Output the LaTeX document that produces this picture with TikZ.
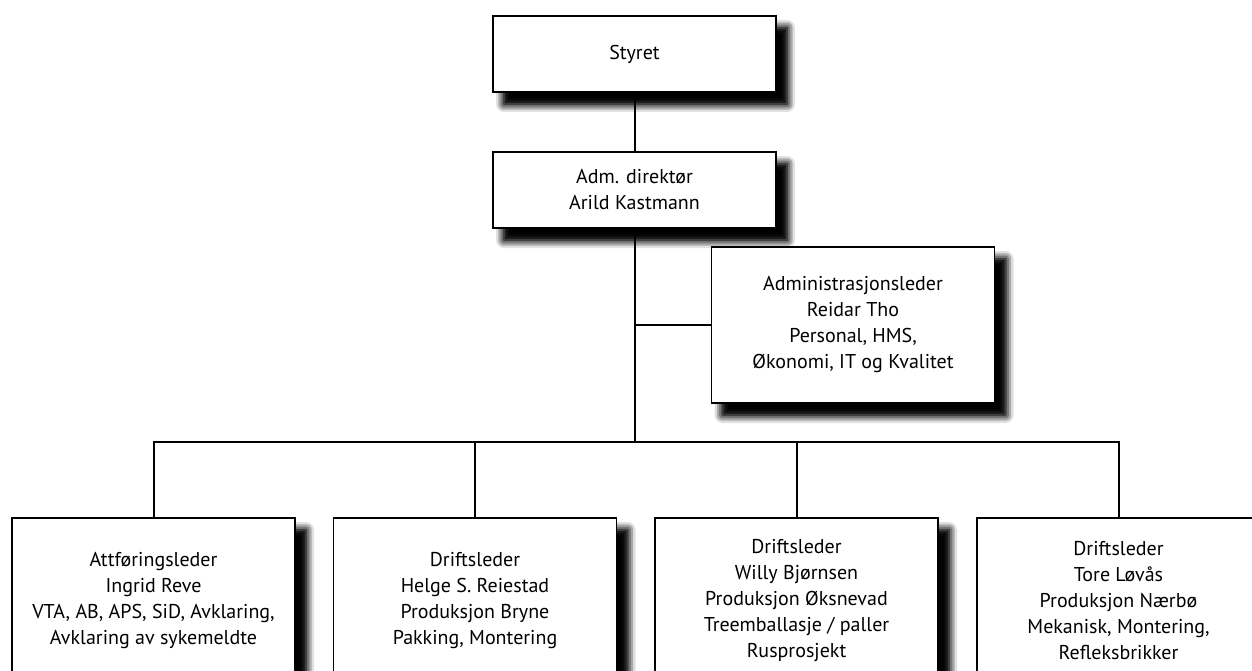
\documentclass[tikz,border=0pt]{standalone}
\usepackage{fontspec}
\setmainfont{PT Sans}
\usetikzlibrary{shadows.blur}

\tikzset{
  boxshadow/.style={blur shadow={shadow xshift=11pt, shadow yshift=-12pt,
      shadow blur radius=8pt, shadow opacity=100}},
  orgbox/.style={draw, line width=1.2pt, fill=white, align=center,
    minimum width=283pt, inner sep=0pt, boxshadow, boxshadow,
    font=\fontsize{20}{26}\selectfont},
  link/.style={line width=2pt}
}

\begin{document}
\begin{tikzpicture}[x=1pt,y=-1pt]
  \useasboundingbox (0,0) rectangle (1252,671);
  \clip (0,0) rectangle (1252,671);

  \node[orgbox, minimum height=76pt]  (styret) at (634.5,54)  {Styret};
  \node[orgbox, minimum height=76pt]  (adm)    at (634.5,190) {Adm. direktør\\Arild Kastmann};
  \node[orgbox, minimum height=156pt] (admin)  at (853,325)
    {Administrasjonsleder\\Reidar Tho\\Personal, HMS,\\Økonomi, IT og Kvalitet};

  \node[orgbox, minimum height=166pt] (ingrid) at (153.5,601)
    {Attføringsleder\\Ingrid Reve\\VTA, AB, APS, SiD, Avklaring,\\Avklaring av sykemeldte};
  \node[orgbox, minimum height=166pt] (helge)  at (475,601)
    {Driftsleder\\Helge S. Reiestad\\Produksjon Bryne\\Pakking, Montering};
  \node[orgbox, minimum height=166pt] (willy)  at (796.5,601)
    {Driftsleder\\Willy Bjørnsen\\Produksjon Øksnevad\\Treemballasje / paller\\Rusprosjekt};
  \node[orgbox, minimum height=166pt] (tore)   at (1118.5,601)
    {Driftsleder\\Tore Løvås\\Produksjon Nærbø\\Mekanisk, Montering,\\Refleksbrikker};

  \coordinate (bus) at (634.5,442);

  \draw[link] (styret) -- (adm);
  \draw[link] (adm) -- (bus);
  \draw[link] (admin.west) -- (adm.south |- admin.west);
  \draw[link] (ingrid.north) -- (ingrid.north |- bus) -- (tore.north |- bus) -- (tore.north);
  \foreach \n in {helge, willy}
    \draw[link] (\n.north) -- (\n.north |- bus);
\end{tikzpicture}
\end{document}
